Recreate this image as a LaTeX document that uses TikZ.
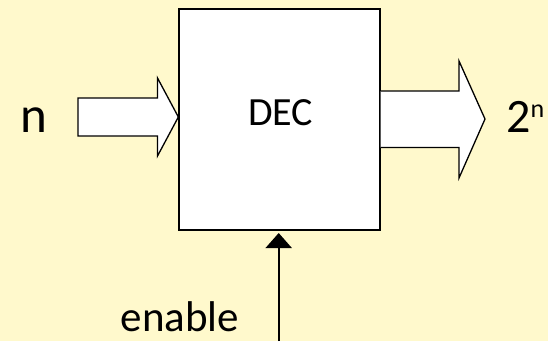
\documentclass[tikz,border=0pt]{standalone}
\usepackage{fontspec}
\setmainfont{Carlito}
\usetikzlibrary{arrows.meta}
\definecolor{bgyellow}{HTML}{FFF9CC}
\begin{document}
\begin{tikzpicture}[x=1pt,y=-1pt,
  blockline/.style={draw=black,line width=1.3pt,fill=white,line join=miter},
  lbl/.style={inner sep=0pt,anchor=base,text=black}]
\fill[bgyellow] (0,0) rectangle (548,341);
\useasboundingbox (0,0) rectangle (548,341);
% decoder box
\node[blockline,minimum width=201pt,minimum height=221pt,inner sep=0pt] (dec) at (279.5,119.6) {};
\node[lbl,font=\fontsize{40}{40}\selectfont] (dectext) at (280.5,125) {DEC};
% input block arrow
\coordinate (intip) at (dec.west |- 0,117);
\draw[blockline] (78,98) -- (157.5,98) -- (157.5,78) -- (intip) -- (157.5,156) -- (157.5,136) -- (78,136) -- cycle;
% output block arrow
\coordinate (outtip) at (485,119);
\draw[blockline] (dec.east |- 0,91) -- (459,91) -- (459,61) -- (outtip) -- (459,178) -- (459,147.5) -- (dec.east |- 0,147.5);
% labels
\node[lbl,font=\fontsize{51}{51}\selectfont] (nin) at (33.5,132.3) {n};
\node[lbl,font=\fontsize{48}{48}\selectfont,anchor=base west] (nout) at (506,132.7) {2\raisebox{15.7pt}{\fontsize{26}{26}\selectfont n}};
\node[lbl,font=\fontsize{43}{43}\selectfont] (en) at (180,331.7) {enable};
% enable arrow
\coordinate (enbot) at (278.7,341);
\draw[line width=2pt,-{Triangle[length=15pt,width=26pt]}] (enbot) -- (278.7,233);
\end{tikzpicture}
\end{document}
